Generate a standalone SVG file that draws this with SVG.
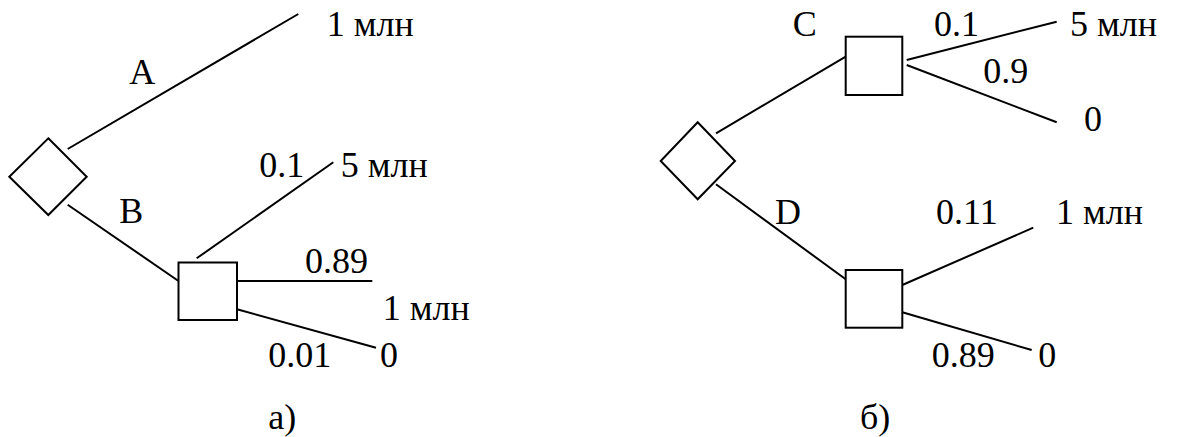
<svg xmlns="http://www.w3.org/2000/svg" width="1180" height="437" viewBox="0 0 1180 437">
<rect width="1180" height="437" fill="#fff"/>
<g id="connectors" fill="none" stroke="#000" stroke-width="2">
<line x1="67.7" y1="149" x2="298.3" y2="14"/>
<line x1="67.7" y1="204.7" x2="178.5" y2="281"/>
<line x1="196.7" y1="258.3" x2="333.3" y2="162.3"/>
<line x1="237" y1="281" x2="372.3" y2="281"/>
<line x1="237" y1="309.3" x2="376" y2="347.7"/>
<line x1="716" y1="133.3" x2="845.7" y2="56.7"/>
<line x1="906.7" y1="60" x2="1056.7" y2="21.7"/>
<line x1="906.7" y1="65" x2="1056.7" y2="122.3"/>
<line x1="716" y1="184.3" x2="845.7" y2="279.3"/>
<line x1="902.3" y1="285" x2="1033.3" y2="227.7"/>
<line x1="902.3" y1="312.3" x2="1031.7" y2="350"/>
</g>
<g id="decisionA" fill="#fff" stroke="#000" stroke-width="2"><polygon points="48.3,138.3 86.7,176.7 48.3,215 9.3,176.7"/></g>
<g id="chanceB" fill="#fff" stroke="#000" stroke-width="2"><rect x="178.5" y="262.5" width="58.5" height="57.5"/></g>
<g id="decisionB" fill="#fff" stroke="#000" stroke-width="2"><polygon points="697.7,122.3 735,161 697.7,199.3 660.7,161"/></g>
<g id="chanceC" fill="#fff" stroke="#000" stroke-width="2"><rect x="845.7" y="36.7" width="56.6" height="58.3"/></g>
<g id="chanceD" fill="#fff" stroke="#000" stroke-width="2"><rect x="845.7" y="270" width="56.6" height="57.7"/></g>
<g id="labels" font-family="Times New Roman, Liberation Serif, Tinos, FreeSerif, serif" font-size="36" fill="#000">
<text x="326.7" y="35.7">1 млн</text>
<text x="129.3" y="84.3">A</text>
<text x="119.3" y="222.7">B</text>
<text x="259.3" y="177.3">0.1</text>
<text x="340.7" y="177.3">5 млн</text>
<text x="305" y="272.7">0.89</text>
<text x="382.7" y="320">1 млн</text>
<text x="268.3" y="366.7">0.01</text>
<text x="380" y="366.7">0</text>
<text x="268.3" y="429">а)</text>
<text x="792.7" y="35.7">C</text>
<text x="934" y="35.7">0.1</text>
<text x="1070" y="35.7">5 млн</text>
<text x="983.3" y="83.3">0.9</text>
<text x="1084" y="131">0</text>
<text x="775" y="224">D</text>
<text x="936" y="224">0.11</text>
<text x="1056" y="224">1 млн</text>
<text x="931.7" y="366.7">0.89</text>
<text x="1038.3" y="366.7">0</text>
<text x="860" y="429">б)</text>
</g>
</svg>
